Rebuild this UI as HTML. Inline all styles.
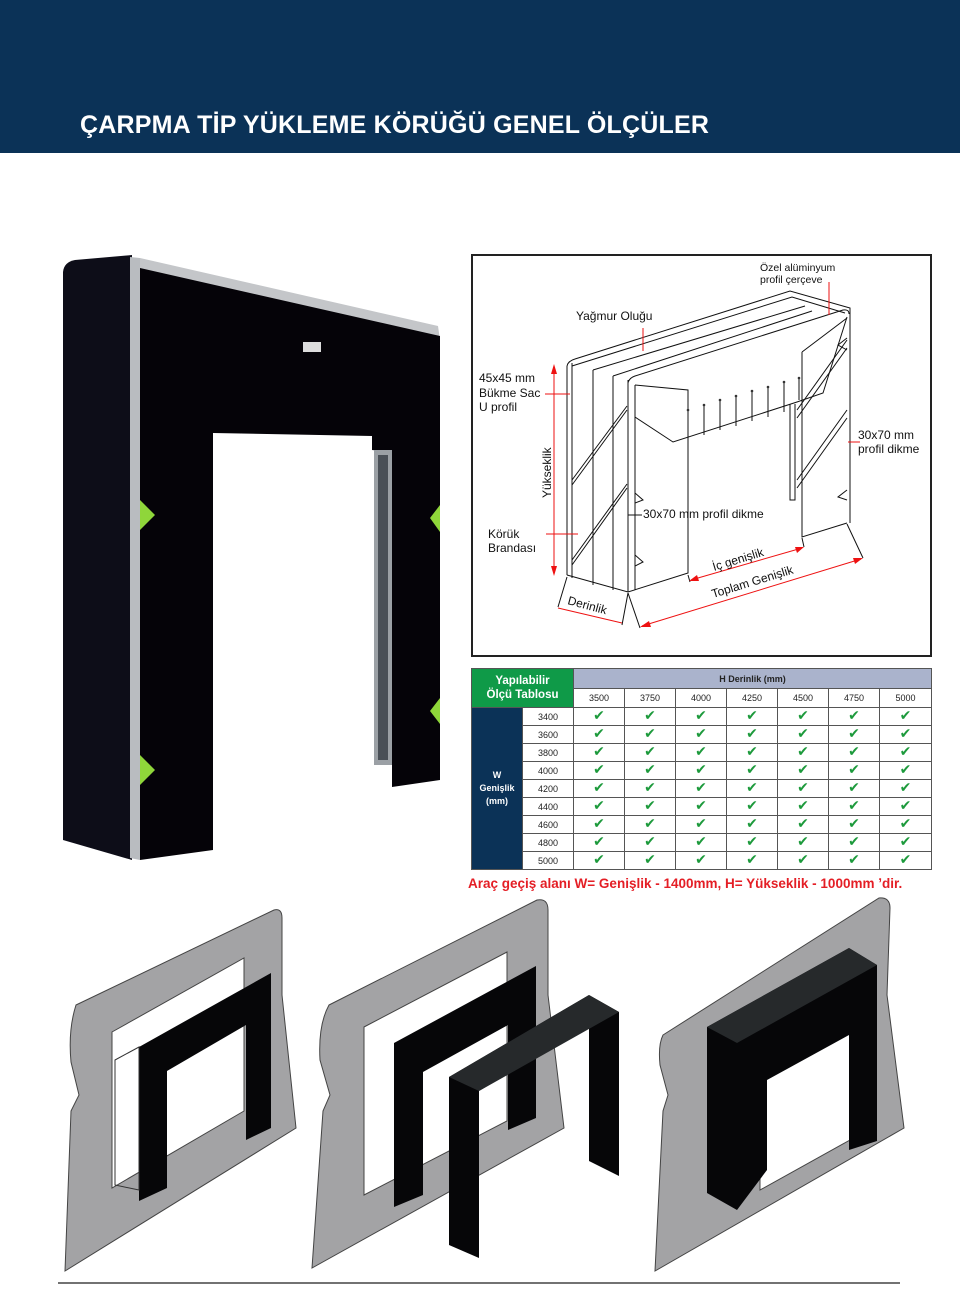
<!DOCTYPE html>
<html><head><meta charset="utf-8">
<style>
body{margin:0;width:960px;height:1316px;position:relative;background:#fff;font-family:"Liberation Sans",sans-serif;overflow:hidden}
.hdr{position:absolute;left:0;top:0;width:960px;height:153px;background:#0b3257}
.hdr h1{position:absolute;left:80px;top:111px;margin:0;color:#fff;font-size:25px;font-weight:bold;letter-spacing:0.2px}
svg{position:absolute;left:0;top:0}
table{position:absolute;left:471px;top:668px;border-collapse:collapse;table-layout:fixed;font-size:9px;color:#222}
td{border:1px solid #555;text-align:center;padding:0;height:17px}
.ck{color:#1d9a3c;font-weight:bold;font-size:14px;line-height:15px;font-family:"DejaVu Sans",sans-serif}
.note{position:absolute;left:468px;top:876px;color:#e41e25;font-weight:bold;font-size:13.5px;white-space:nowrap}
</style></head><body>
<div class="hdr"><h1>ÇARPMA TİP YÜKLEME KÖRÜĞÜ GENEL ÖLÇÜLER</h1></div>

<svg width="960" height="1316" viewBox="0 0 960 1316">
<path d="M63,272 Q64,262 75,260 L132,255 L132,860 L63,840 Z" fill="#0d0d18"/>
<path d="M130,257 L140,258 L140,860 L130,858 Z" fill="#b9bcc0"/>
<path d="M140,258 L438,326 L440,340 L140,270 Z" fill="#c4c6c9"/>
<path d="M140,268 L440,336 L440,780 L392,787 L392,452 L372,450 L372,436 L213,433 L213,850 L140,860 Z" fill="#050308"/>
<rect x="374" y="450" width="18" height="315" fill="#9ba0a5"/>
<rect x="378" y="455" width="10" height="305" fill="#4a5057"/>
<rect x="303" y="342" width="18" height="10" fill="#ddd"/>
<polygon points="140,500 155,515 140,530" fill="#8fd63a"/>
<polygon points="140,755 155,770 140,785" fill="#8fd63a"/>
<polygon points="440,505 430,518 440,532" fill="#8fd63a"/>
<polygon points="440,698 430,711 440,724" fill="#8fd63a"/>

<rect x="472" y="255" width="459" height="401" fill="none" stroke="#222" stroke-width="2"/>
<g fill="none" stroke="#111" stroke-width="1">
<path d="M567,366 L567,575 M572,363 L572,578 M593,370 L593,585 M613,376 L613,590 M628,380 L628,592 M635,385 L635,590"/>
<path d="M567,366 Q568,361 575,359 L790,291 L850,308 L850,523"/>
<path d="M572,366 L792,297 L845,313"/>
<path d="M593,370 L805,306 M613,376 L812,311"/>
<path d="M628,383 Q629,378 635,376 L843,310 Q849,309 849,314"/>
<path d="M567,575 L628,592 L688,573 L688,390 L635,385"/>
<path d="M635,417 L673,442 L797,402 L823,393 L847,317"/>
<path d="M802,352 L802,537 L847,523 M802,352 L847,318"/>
<path d="M790,404 L790,500 L795,500 L795,404"/>
<path d="M572,480 L627,406 M572,485 L627,410 M572,560 L627,484 M572,565 L627,488"/>
<path d="M797,410 L847,340 M797,418 L847,348 M797,480 L847,410 M797,488 L847,418"/>
<path d="M688,410 L688,440 M704,405 L704,435 M720,400 L720,430 M736,396 L736,426 M752,391 L752,421 M768,387 L768,417 M784,382 L784,412 M799,378 L799,400"/>
<path d="M635,493 L643,500 L635,503 M635,555 L643,562 L635,566 M847,490 L838,497 L847,500 M847,338 L838,345 L847,350"/>
<path d="M567,577 L558,607 M628,593 L622,625 M628,593 L640,628 M847,524 L863,558 M688,575 L690,582 M802,538 L804,547"/>
<path d="M642,515 L628,515"/>
</g>
<g fill="#333">
<circle cx="688" cy="410" r="1.3"/><circle cx="704" cy="405" r="1.3"/><circle cx="720" cy="400" r="1.3"/><circle cx="736" cy="396" r="1.3"/><circle cx="752" cy="391" r="1.3"/><circle cx="768" cy="387" r="1.3"/><circle cx="784" cy="382" r="1.3"/><circle cx="799" cy="378" r="1.3"/>
</g>
<g stroke="#e11" stroke-width="1" fill="#e11">
<line x1="554" y1="366" x2="554" y2="574"/>
<polygon points="554,364 551,374 557,374" stroke="none"/><polygon points="554,576 551,566 557,566" stroke="none"/>
<line x1="558" y1="608" x2="622" y2="623"/>
<line x1="642" y1="626" x2="861" y2="559"/>
<polygon points="640,627 649,621 651,627" stroke="none"/><polygon points="863,558 853,558 855,564" stroke="none"/>
<line x1="691" y1="580" x2="802" y2="548"/>
<polygon points="689,581 697,575 699,581" stroke="none"/><polygon points="804,547 795,547 797,553" stroke="none"/>
<line x1="545" y1="394" x2="570" y2="394"/><line x1="546" y1="534" x2="578" y2="534"/>
<line x1="643" y1="328" x2="643" y2="351"/><line x1="829" y1="282" x2="829" y2="315"/>
<line x1="848" y1="442" x2="860" y2="442"/>
</g>
<g font-family="Liberation Sans, sans-serif" fill="#111">
<text x="760" y="271" font-size="10.5">Özel alüminyum</text>
<text x="760" y="283" font-size="10.5">profil çerçeve</text>
<text x="576" y="320" font-size="12">Yağmur Oluğu</text>
<text x="479" y="382" font-size="12">45x45 mm</text>
<text x="479" y="397" font-size="12">Bükme Sac</text>
<text x="479" y="411" font-size="12">U profil</text>
<text x="488" y="538" font-size="12">Körük</text>
<text x="488" y="552" font-size="12">Brandası</text>
<text x="858" y="439" font-size="12">30x70 mm</text>
<text x="858" y="453" font-size="12">profil dikme</text>
<text x="643" y="518" font-size="12">30x70 mm profil dikme</text>
<text transform="translate(551,498) rotate(-90)" font-size="12">Yükseklik</text>
<text transform="translate(567,604) rotate(15)" font-size="12">Derinlik</text>
<text transform="translate(714,571) rotate(-17)" font-size="12">İç genişlik</text>
<text transform="translate(713,598) rotate(-17)" font-size="12">Toplam Genişlik</text>
</g>

<g stroke="#444" stroke-width="1">
<path d="M76,1005 L274,910 Q282,908 282,918 L282,995 L296,1128 L65,1271 L71,1111 L79,1095 L71,1062 Q68,1030 76,1005 Z" fill="#a3a3a5"/>
<polygon points="112,1032 244,958 244,1111 112,1188" fill="#fff"/>
<path d="M329,1005 L537,900 Q548,898 548,910 L548,995 L564,1128 L312,1268 L323,1111 L330,1095 L320,1060 Q318,1025 329,1005 Z" fill="#a3a3a5"/>
<polygon points="364,1027 507,952 507,1121 364,1195" fill="#fff"/>
<path d="M663,1035 L879,898 Q890,897 890,908 L887,995 L904,1128 L655,1271 L663,1111 L668,1095 L660,1065 Q658,1045 663,1035 Z" fill="#a3a3a5"/>
<polygon points="760,1080 850,1030 850,1140 760,1190" fill="#fff"/>
</g>
<g fill="#060608">
<path d="M139,1047 L271,973 L271,1128 L246,1140 L246,1025 L167,1071 L167,1188 L139,1201 Z"/>
<path d="M394,1043 L536,966 L536,1118 L508,1130 L508,1025 L423,1072 L423,1195 L394,1207 Z"/>
<path d="M449,1077 L589,995 L619,1012 L619,1176 L589,1161 L589,1025 L479,1091 L479,1258 L449,1245 Z"/>
<path d="M707,1027 L849,948 L877,965 L877,1141 L849,1150 L849,1035 L767,1080 L767,1170 L737,1210 L707,1193 Z"/>
</g>
<polygon points="449,1077 589,995 619,1012 479,1091" fill="#26292b"/>
<polygon points="707,1027 849,948 877,965 737,1043" fill="#26292b"/>
<polygon points="115,1060 139,1047 139,1190 115,1185" fill="none" stroke="#333"/>
<line x1="58" y1="1283" x2="900" y2="1283" stroke="#444" stroke-width="1.5"/>
</svg>

<table>
<colgroup><col style="width:51px"><col style="width:51px"><col style="width:51px"><col style="width:51px"><col style="width:51px"><col style="width:51px"><col style="width:51px"><col style="width:51px"><col style="width:52px"></colgroup>
<tr><td colspan="2" rowspan="2" style="background:#0f9a48;color:#fff;font-weight:bold;font-size:11.5px;line-height:14px">Yapılabilir<br>Ölçü Tablosu</td><td colspan="7" style="background:#aab3cc;font-weight:bold;height:19px">H Derinlik (mm)</td></tr>
<tr style="height:19px"><td>3500</td><td>3750</td><td>4000</td><td>4250</td><td>4500</td><td>4750</td><td>5000</td></tr>
<tr><td rowspan="9" style="background:#0b3257;color:#fff;font-weight:bold;line-height:13px">W<br>Genişlik<br>(mm)</td><td>3400</td><td class="ck">✔</td><td class="ck">✔</td><td class="ck">✔</td><td class="ck">✔</td><td class="ck">✔</td><td class="ck">✔</td><td class="ck">✔</td></tr>
<tr><td>3600</td><td class="ck">✔</td><td class="ck">✔</td><td class="ck">✔</td><td class="ck">✔</td><td class="ck">✔</td><td class="ck">✔</td><td class="ck">✔</td></tr>
<tr><td>3800</td><td class="ck">✔</td><td class="ck">✔</td><td class="ck">✔</td><td class="ck">✔</td><td class="ck">✔</td><td class="ck">✔</td><td class="ck">✔</td></tr>
<tr><td>4000</td><td class="ck">✔</td><td class="ck">✔</td><td class="ck">✔</td><td class="ck">✔</td><td class="ck">✔</td><td class="ck">✔</td><td class="ck">✔</td></tr>
<tr><td>4200</td><td class="ck">✔</td><td class="ck">✔</td><td class="ck">✔</td><td class="ck">✔</td><td class="ck">✔</td><td class="ck">✔</td><td class="ck">✔</td></tr>
<tr><td>4400</td><td class="ck">✔</td><td class="ck">✔</td><td class="ck">✔</td><td class="ck">✔</td><td class="ck">✔</td><td class="ck">✔</td><td class="ck">✔</td></tr>
<tr><td>4600</td><td class="ck">✔</td><td class="ck">✔</td><td class="ck">✔</td><td class="ck">✔</td><td class="ck">✔</td><td class="ck">✔</td><td class="ck">✔</td></tr>
<tr><td>4800</td><td class="ck">✔</td><td class="ck">✔</td><td class="ck">✔</td><td class="ck">✔</td><td class="ck">✔</td><td class="ck">✔</td><td class="ck">✔</td></tr>
<tr><td>5000</td><td class="ck">✔</td><td class="ck">✔</td><td class="ck">✔</td><td class="ck">✔</td><td class="ck">✔</td><td class="ck">✔</td><td class="ck">✔</td></tr>
</table>
<div class="note">Araç geçiş alanı W= Genişlik - 1400mm, H= Yükseklik - 1000mm ʼdir.</div>
</body></html>
